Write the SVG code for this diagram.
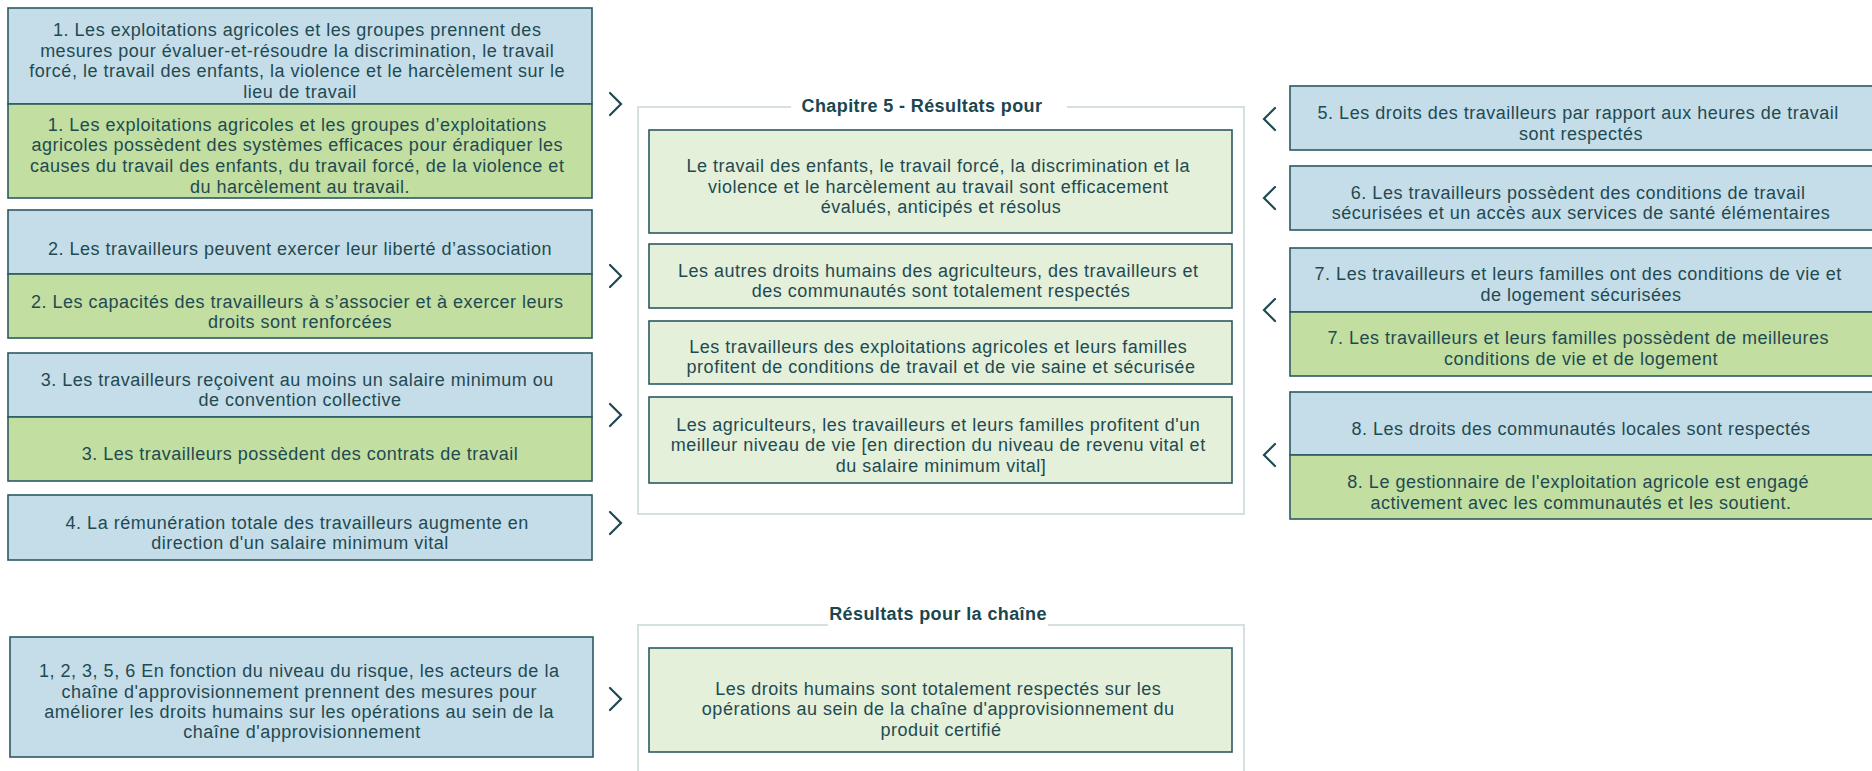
<svg xmlns="http://www.w3.org/2000/svg" width="1872" height="771" viewBox="0 0 1872 771">
  <style>
    .t { font-family: "Liberation Sans", Arial, sans-serif; font-size: 18px; letter-spacing: 0.5px; fill: #1f4a52; text-anchor: middle; }
    .h { font-family: "Liberation Sans", Arial, sans-serif; font-size: 18px; letter-spacing: 0.4px; font-weight: 700; fill: #1a4650; text-anchor: middle; }
    .blue { fill: #c5dde8; stroke: #2b5a63; stroke-width: 1.6; }
    .green { fill: #c2dea0; stroke: #2b5a63; stroke-width: 1.6; }
    .res { fill: #e4f0d9; stroke: #2b5a63; stroke-width: 1.6; }
    .frame { fill: none; stroke: #d6e0e3; stroke-width: 2; }
    .chev { fill: none; stroke: #1f4a52; stroke-width: 2.2; stroke-linecap: round; stroke-linejoin: miter; }
  </style>
  <rect width="1872" height="771" fill="#ffffff"/>

  <!-- left column: activities and outputs -->
  <g id="n1">
    <rect class="blue" x="8" y="8" width="584" height="96"/>
    <rect class="green" x="8" y="104" width="584" height="94"/>
    <text class="t">
      <tspan x="300" y="36">1. Les exploitations agricoles et les groupes prennent des</tspan>
      <tspan x="300" y="56.5">mesures pour évaluer-et-résoudre la discrimination, le travail</tspan>
      <tspan x="300" y="77">forcé, le travail des enfants, la violence et le harcèlement sur le</tspan>
      <tspan x="300" y="97.5">lieu de travail</tspan>
    </text>
    <text class="t">
      <tspan x="300" y="130.5">1. Les exploitations agricoles et les groupes d’exploitations</tspan>
      <tspan x="300" y="151">agricoles possèdent des systèmes efficaces pour éradiquer les</tspan>
      <tspan x="300" y="172">causes du travail des enfants, du travail forcé, de la violence et</tspan>
      <tspan x="300" y="192.5">du harcèlement au travail.</tspan>
    </text>
  </g>

  <g id="n2">
    <rect class="blue" x="8" y="210" width="584" height="64"/>
    <rect class="green" x="8" y="274" width="584" height="64"/>
    <text class="t"><tspan x="300" y="254.5">2. Les travailleurs peuvent exercer leur liberté d’association</tspan></text>
    <text class="t">
      <tspan x="300" y="307.5">2. Les capacités des travailleurs à s’associer et à exercer leurs</tspan>
      <tspan x="300" y="327.5">droits sont renforcées</tspan>
    </text>
  </g>

  <g id="n3">
    <rect class="blue" x="8" y="353" width="584" height="64"/>
    <rect class="green" x="8" y="417" width="584" height="64"/>
    <text class="t">
      <tspan x="300" y="385.5">3. Les travailleurs reçoivent au moins un salaire minimum ou</tspan>
      <tspan x="300" y="405.5">de convention collective</tspan>
    </text>
    <text class="t"><tspan x="300" y="460">3. Les travailleurs possèdent des contrats de travail</tspan></text>
  </g>

  <g id="n4">
    <rect class="blue" x="8" y="495" width="584" height="65"/>
    <text class="t">
      <tspan x="300" y="529">4. La rémunération totale des travailleurs augmente en</tspan>
      <tspan x="300" y="549">direction d'un salaire minimum vital</tspan>
    </text>
  </g>

  <!-- central frame: outcomes -->
  <g id="outcomes">
    <path class="frame" d="M791,107 H638 V514 H1244 V107 H1067"/>
    <text class="h" x="922" y="112">Chapitre 5 - Résultats pour</text>
  </g>

  <g id="oA">
    <rect class="res" x="649" y="130" width="583" height="103"/>
    <text class="t">
      <tspan x="941" y="172.3">Le travail des enfants, le travail forcé, la discrimination et la</tspan>
      <tspan x="941" y="192.7">violence et le harcèlement au travail sont efficacement</tspan>
      <tspan x="941" y="212.7">évalués, anticipés et résolus</tspan>
    </text>
  </g>

  <g id="oB">
    <rect class="res" x="649" y="244" width="583" height="64"/>
    <text class="t">
      <tspan x="941" y="277.3">Les autres droits humains des agriculteurs, des travailleurs et</tspan>
      <tspan x="941" y="297.3">des communautés sont totalement respectés</tspan>
    </text>
  </g>

  <g id="oC">
    <rect class="res" x="649" y="321" width="583" height="63"/>
    <text class="t">
      <tspan x="941" y="353.3">Les travailleurs des exploitations agricoles et leurs familles</tspan>
      <tspan x="941" y="373.3">profitent de conditions de travail et de vie saine et sécurisée</tspan>
    </text>
  </g>

  <g id="oD">
    <rect class="res" x="649" y="397" width="583" height="86"/>
    <text class="t">
      <tspan x="941" y="430.7">Les agriculteurs, les travailleurs et leurs familles profitent d'un</tspan>
      <tspan x="941" y="451">meilleur niveau de vie [en direction du niveau de revenu vital et</tspan>
      <tspan x="941" y="471.7">du salaire minimum vital]</tspan>
    </text>
  </g>

  <!-- right column -->
  <g id="n5">
    <rect class="blue" x="1290" y="86" width="590" height="64"/>
    <text class="t">
      <tspan x="1581" y="119.3">5. Les droits des travailleurs par rapport aux heures de travail</tspan>
      <tspan x="1581" y="139.5">sont respectés</tspan>
    </text>
  </g>

  <g id="n6">
    <rect class="blue" x="1290" y="166" width="590" height="64"/>
    <text class="t">
      <tspan x="1581" y="198.5">6. Les travailleurs possèdent des conditions de travail</tspan>
      <tspan x="1581" y="219">sécurisées et un accès aux services de santé élémentaires</tspan>
    </text>
  </g>

  <g id="n7">
    <rect class="blue" x="1290" y="248" width="590" height="64"/>
    <rect class="green" x="1290" y="312" width="590" height="64"/>
    <text class="t">
      <tspan x="1581" y="280">7. Les travailleurs et leurs familles ont des conditions de vie et</tspan>
      <tspan x="1581" y="300.7">de logement sécurisées</tspan>
    </text>
    <text class="t">
      <tspan x="1581" y="344.3">7. Les travailleurs et leurs familles possèdent de meilleures</tspan>
      <tspan x="1581" y="365">conditions de vie et de logement</tspan>
    </text>
  </g>

  <g id="n8">
    <rect class="blue" x="1290" y="392" width="590" height="63"/>
    <rect class="green" x="1290" y="455" width="590" height="64"/>
    <text class="t"><tspan x="1581" y="435">8. Les droits des communautés locales sont respectés</tspan></text>
    <text class="t">
      <tspan x="1581" y="488.3">8. Le gestionnaire de l'exploitation agricole est engagé</tspan>
      <tspan x="1581" y="509">activement avec les communautés et les soutient.</tspan>
    </text>
  </g>

  <!-- supply chain row -->
  <g id="n9">
    <rect class="blue" x="10" y="637" width="583" height="120"/>
    <text class="t">
      <tspan x="302" y="677.3">1, 2, 3, 5, 6 En fonction du niveau du risque, les acteurs de la</tspan>
      <tspan x="302" y="697.5">chaîne d'approvisionnement prennent des mesures pour</tspan>
      <tspan x="302" y="717.9">améliorer les droits humains sur les opérations au sein de la</tspan>
      <tspan x="302" y="738.3">chaîne d'approvisionnement</tspan>
    </text>
  </g>

  <g id="chain">
    <path class="frame" d="M828,625 H638 V780 M1244,780 V625 H1048"/>
    <text class="h" x="938" y="620">Résultats pour la chaîne</text>
  </g>

  <g id="oE">
    <rect class="res" x="649" y="648" width="583" height="104"/>
    <text class="t">
      <tspan x="941" y="694.5">Les droits humains sont totalement respectés sur les</tspan>
      <tspan x="941" y="715">opérations au sein de la chaîne d'approvisionnement du</tspan>
      <tspan x="941" y="735.5">produit certifié</tspan>
    </text>
  </g>

  <!-- connectors: chevrons between columns -->
  <g id="connectors">
    <path class="chev" d="M610,93 L621,104 L610,115"/>
    <path class="chev" d="M610,265 L621,276 L610,287"/>
    <path class="chev" d="M610,404 L621,415 L610,426"/>
    <path class="chev" d="M610,512 L621,523 L610,534"/>
    <path class="chev" d="M610,688 L621,699 L610,710"/>
    <path class="chev" d="M1275,108 L1264,119 L1275,130"/>
    <path class="chev" d="M1275,187 L1264,198 L1275,209"/>
    <path class="chev" d="M1275,299 L1264,310 L1275,321"/>
    <path class="chev" d="M1275,444 L1264,455 L1275,466"/>
  </g>
</svg>
